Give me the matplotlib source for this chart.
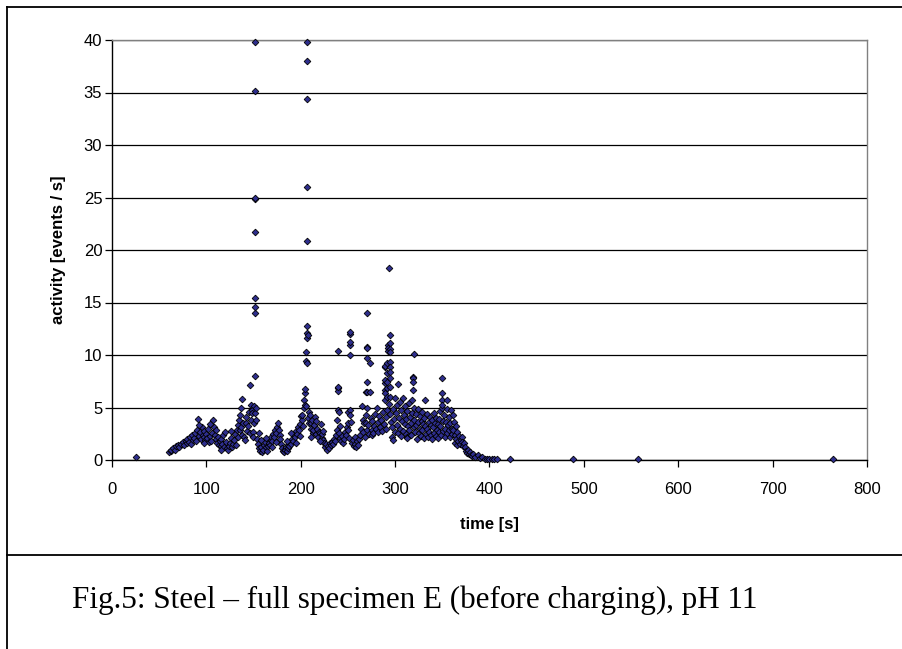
import matplotlib
matplotlib.use("Agg")
from matplotlib import pyplot as plt
from matplotlib.lines import Line2D

plt.rcParams['font.family'] = ['Liberation Sans', 'DejaVu Sans']

# (time [s], activity [events/s]), grouped by time range
seg_start = [(25, 0.3), (60, 0.8), (62, 0.9), (63, 1.0), (65, 1.1), (67, 1.0), (68, 1.3), (70, 1.4),
             (71, 1.2), (73, 1.5), (75, 1.7), (76, 1.4), (78, 1.8), (79, 1.6), (80, 2.0), (82, 1.7),
             (83, 2.2), (84, 1.5), (85, 2.4), (86, 1.9), (87, 2.1), (88, 2.6), (89, 1.8), (90, 2.9),
             (91, 3.9), (92, 2.3), (93, 2.7), (94, 2.0), (95, 3.1), (96, 2.4), (97, 2.2), (98, 2.8),
             (99, 1.9), (100, 2.5), (101, 2.1), (102, 3.0), (103, 1.7), (104, 2.3), (105, 1.8),
             (106, 2.6), (107, 3.8), (108, 3.1), (109, 2.4), (110, 2.0), (111, 1.6), (112, 2.2),
             (113, 1.4), (114, 1.8), (115, 1.3), (116, 2.0), (117, 1.5), (118, 2.4), (119, 1.2),
             (120, 2.7), (121, 1.7), (122, 1.1), (123, 1.0), (124, 1.3), (125, 1.6), (126, 2.1),
             (127, 1.2), (128, 1.5), (129, 1.9), (130, 2.5), (131, 1.4), (132, 2.9), (133, 2.2),
             (134, 3.3), (92, 3.3), (98, 1.6), (104, 3.4), (110, 2.9), (116, 1.0), (126, 2.8)]

seg_peak1 = [(135, 3.8), (135.5, 2.9), (136, 4.3), (136.5, 3.1), (137, 5.0), (137.5, 5.8), (138, 2.4),
             (139, 3.5), (140, 2.2), (141, 1.9), (141.5, 3.5), (142, 4.1), (143, 2.8), (144, 3.2),
             (145, 4.6), (146, 7.1), (146.5, 2.6), (147, 5.2), (147.5, 3.8), (148, 4.8), (148.5, 4.5),
             (149, 2.7), (149.5, 2.2), (150, 3.5), (150.5, 5.1), (151, 8.0), (151.5, 14.0),
             (151.5, 14.6), (151.5, 15.4), (151.5, 21.7), (151.5, 24.9), (151.5, 25.0), (151.5, 35.1),
             (151.5, 39.8), (152, 4.5), (152.5, 5.0), (153, 3.8), (154, 2.0), (155, 1.5), (155.5, 2.6)]

seg_dip = [(156, 1.1), (157, 0.9), (158, 1.2), (159, 0.8), (160, 1.0), (161, 1.4), (162, 1.7), (163, 1.2),
           (164, 0.9), (165, 1.3), (166, 1.6), (167, 1.4), (168, 1.9), (169, 2.2), (170, 1.8), (171, 2.5),
           (172, 2.2), (173, 2.9), (174, 2.6), (175, 3.1), (176, 3.5), (177, 2.9), (177.5, 2.4),
           (178, 2.0), (179, 1.5), (180, 1.1), (181, 0.9), (182, 0.8), (183, 1.0), (184, 1.2), (185, 0.9),
           (186, 1.1), (187, 1.4), (188, 1.3), (189, 1.7), (190, 1.5), (191, 2.0), (192, 1.8), (193, 2.4),
           (194, 2.2), (195, 2.8), (196, 2.5), (197, 3.1), (198, 2.9), (199, 3.4), (200, 4.2), (201, 3.8),
           (201.5, 4.3), (202, 3.2), (158, 1.9), (163, 2.1), (170, 1.2), (174, 1.7), (185, 1.8),
           (190, 2.6), (195, 1.6), (199, 2.3)]

seg_peak2 = [(203, 5.0), (203.5, 5.7), (204, 6.4), (204.5, 6.8), (205, 5.2), (205.5, 5.1), (206, 9.4),
             (206, 10.3), (206.6, 11.6), (206.6, 12.1), (206.6, 12.8), (206.6, 20.9), (206.6, 26.0),
             (206.6, 34.4), (206.6, 38.0), (206.6, 39.8), (207, 9.2), (207.5, 11.9), (208, 4.0),
             (208.5, 3.5), (209, 4.6), (210, 4.3), (210.5, 3.5), (211, 3.0), (212, 3.8), (212.5, 2.6),
             (213, 2.9), (214, 3.3), (215, 4.1), (216, 2.5), (217, 3.0), (218, 2.2), (219, 2.7), (220, 2.6),
             (221, 3.4), (222, 2.1), (223, 2.5), (224, 1.9), (225, 1.6), (226, 1.2), (227, 1.5), (228, 1.0),
             (229, 1.3), (230, 1.1), (231, 1.6), (232, 1.4), (211, 2.2), (216, 3.7), (220, 1.8), (224, 2.8)]

seg_mid = [(233, 1.7), (234, 1.5), (235, 2.0), (236, 1.8), (237, 2.4), (238, 2.9), (238.5, 3.8), (239, 4.8),
           (239.5, 6.9), (239.5, 6.6), (239.5, 10.4), (240, 7.0), (240.5, 4.6), (241, 2.6), (241.5, 3.2),
           (242, 2.1), (243, 1.8), (244, 2.3), (245, 1.6), (246, 2.0), (247, 2.7), (248, 2.4), (249, 3.1),
           (250, 3.5), (250, 2.9), (250.5, 4.6), (251, 2.1), (252, 4.8), (252, 10.0), (252, 11.0),
           (252, 11.2), (252, 12.0), (252, 12.2), (252.5, 4.3), (253, 3.6), (254, 1.6), (255, 1.9),
           (256, 1.3), (257, 2.2), (258, 1.5), (259, 1.2), (260, 1.8), (261, 1.4), (262, 2.0)]

seg_peak3 = [(263, 2.4), (264, 3.0), (265, 5.1), (265.5, 3.8), (266, 2.7), (267, 3.5), (268, 2.2), (269, 6.5),
             (269, 4.3), (269.5, 3.5), (270, 14.0), (270, 10.8), (270, 10.7), (270, 9.7), (270, 7.4),
             (270, 6.5), (270, 5.0), (270.5, 2.9), (271, 3.3), (272, 2.5), (273, 9.2), (273, 6.5), (274, 4.0),
             (275, 2.4), (275.5, 2.9), (276, 3.7), (277, 2.6), (278, 3.2), (279, 4.4), (280, 3.0), (281, 5.0),
             (281.5, 3.6), (282, 2.7), (283, 4.2), (284, 3.1), (285, 3.8), (286, 2.8), (287, 4.6), (288, 3.4),
             (289, 8.9), (289, 9.0), (289, 7.3), (289, 7.6), (289, 6.7), (289, 5.7), (289, 6.4), (290, 4.1),
             (290.5, 3.0), (291, 9.2), (291, 8.3), (291, 7.4), (291, 6.9), (291, 6.0), (291.5, 4.8),
             (292, 11.0), (292, 10.7), (292, 10.4), (293, 18.3), (293, 5.3), (294.6, 11.9), (294.6, 11.1),
             (294.6, 10.6), (294.6, 10.3), (294.6, 9.3), (294.6, 8.9), (294.6, 8.4), (294.6, 7.8),
             (294.6, 7.0), (294.6, 6.0), (295, 4.4), (296, 3.6), (297, 3.1), (297, 2.2), (297.5, 1.9),
             (298, 4.9), (299, 3.9), (300, 5.9), (300, 2.7)]

seg_cluster = [(301, 4.5), (302, 3.3), (302.5, 5.2), (303, 7.2), (303.5, 2.6), (304, 4.0), (305, 3.0),
               (305.5, 5.5), (306, 2.3), (306.5, 4.8), (307, 3.7), (308, 5.9), (308.5, 2.8), (309, 4.3),
               (310, 3.4), (310.5, 5.1), (311, 2.5), (312, 3.9), (312.6, 2.2), (312.6, 2.1), (313, 4.7),
               (314, 3.2), (314.5, 5.4), (315, 2.9), (316, 4.1), (316.5, 3.5), (317, 2.4), (318, 5.7),
               (318, 4.5), (319, 7.9), (319, 7.8), (319, 7.4), (319, 6.7), (319.5, 3.1), (320, 10.1),
               (320, 5.0), (320.5, 3.8), (321, 2.7), (322, 4.4), (322.5, 3.3), (323, 2.0), (324, 4.9),
               (324.5, 3.6), (325, 2.6), (326, 4.2), (326.5, 3.0), (327, 2.3), (328, 3.7), (328.5, 4.6),
               (329, 2.9), (330, 3.4), (330.5, 2.1), (331, 4.0), (331.6, 5.7), (332, 3.2), (333, 2.5),
               (333.5, 4.4), (334, 3.0), (335, 2.2), (335.5, 3.6), (336, 2.7), (337, 4.1), (337.5, 3.3),
               (338, 2.4), (339, 3.8), (339.5, 2.0), (340, 3.1), (341, 4.5), (341.5, 2.6), (342, 3.5),
               (343, 2.3), (343.5, 4.0), (344, 2.9), (345, 3.4), (345.5, 2.1), (346, 3.9), (347, 2.7),
               (347.5, 4.7), (348, 3.2), (349, 2.4), (349.5, 5.0), (350, 7.8), (350, 6.4), (350, 5.7),
               (350, 5.2), (350.5, 3.7), (351, 2.8), (352, 4.3), (352.5, 3.0), (353, 2.2), (354, 3.6),
               (354.5, 4.9), (355, 5.7), (355, 2.6), (356, 3.3), (357, 4.1), (357.5, 2.9), (358, 2.2),
               (358.5, 3.5), (359, 4.8), (360, 3.0), (360, 2.5)]

seg_decay = [(361, 4.3), (361.5, 2.9), (362, 3.6), (363, 1.6), (363.5, 2.4), (364, 3.2), (365, 2.0),
             (365.6, 1.4), (366, 2.7), (367, 1.8), (368, 2.3), (369, 1.5), (370, 1.9), (371, 2.2),
             (371, 1.7), (372, 1.3), (373, 1.6), (374, 1.2), (375, 0.9), (376, 0.7), (377, 1.0),
             (378, 0.6), (379, 0.8), (380, 0.5), (381, 0.4), (383, 0.6), (385, 0.3), (388, 0.5),
             (390, 0.2), (392, 0.3), (395, 0.1), (397, 0.1), (400, 0.1), (403, 0.05), (405, 0.05),
             (408, 0.1), (422, 0.05)]

seg_tail = [(489, 0.05), (557, 0.05), (764, 0.05)]

segments = [seg_start, seg_peak1, seg_dip, seg_peak2, seg_mid, seg_peak3, seg_cluster, seg_decay, seg_tail]
time = [p[0] for s in segments for p in s]
activity = [p[1] for s in segments for p in s]

fig = plt.figure(figsize=(9.03, 6.49), dpi=100)
ax = fig.add_axes([112/903, 1 - 460/649, 755/903, 420/649])

ax.plot(time, activity, linestyle='none', marker='D', markersize=3.4,
        markerfacecolor='#2e2e8e', markeredgecolor='black', markeredgewidth=0.6, clip_on=False, zorder=3)

ax.set_xlim(0, 800)
ax.set_ylim(0, 40)
ax.set_xticks(range(0, 801, 100))
ax.set_yticks(range(0, 41, 5))
ax.yaxis.grid(True, color='black', linewidth=0.9)
ax.set_axisbelow(True)
ax.tick_params(direction='out', length=5, width=0.9, labelsize=12)
ax.tick_params(axis='x', pad=11)
ax.tick_params(axis='y', pad=2)
for s in ['top', 'right']:
    ax.spines[s].set_color('#808080')
    ax.spines[s].set_linewidth(1.0)
for s in ['left', 'bottom']:
    ax.spines[s].set_linewidth(1.0)

ax.set_xlabel('time [s]', fontsize=12, fontweight='bold', labelpad=14)
ax.set_ylabel('activity [events / s]', fontsize=12, fontweight='bold', labelpad=13)

# frame of the surrounding cell and the caption row
fig.add_artist(Line2D([7/903, 7/903], [0, 1 - 7/649], transform=fig.transFigure, color='black', lw=1.3))
fig.add_artist(Line2D([7/903, 1], [1 - 7/649, 1 - 7/649], transform=fig.transFigure, color='black', lw=1.3))
fig.add_artist(Line2D([7/903, 1], [1 - 555/649, 1 - 555/649], transform=fig.transFigure, color='black', lw=1.3))

fig.text(415/903, 1 - 600/649, 'Fig.5: Steel \u2013 full specimen E (before charging), pH 11',
         fontsize=22.4, family=['Liberation Serif', 'DejaVu Serif'], ha='center', va='center')

fig.savefig('out.png', dpi=100)
